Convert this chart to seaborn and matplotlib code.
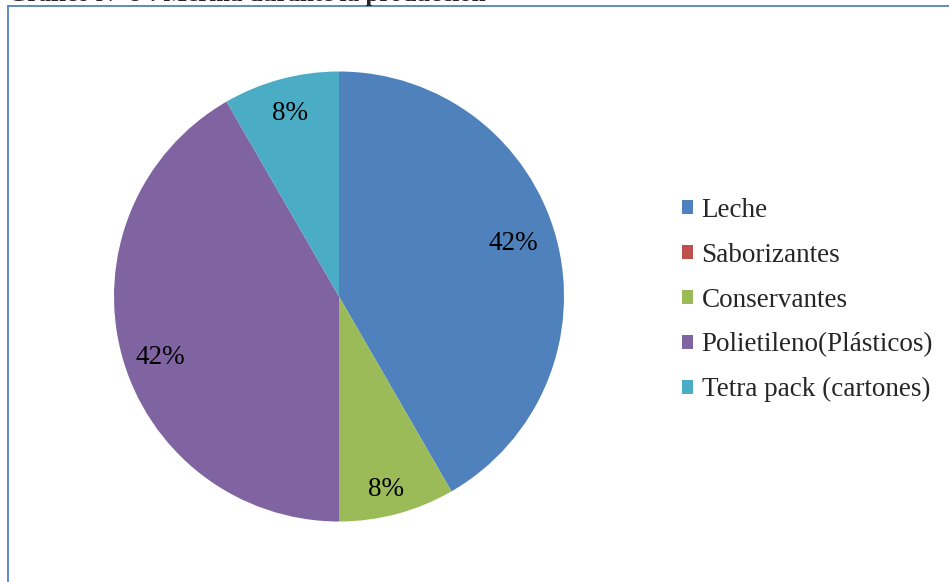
import matplotlib
matplotlib.use("Agg")
import numpy as np
import matplotlib.pyplot as plt
import seaborn as sns
from matplotlib.patches import Patch
from matplotlib.lines import Line2D

categories = ["Leche", "Saborizantes", "Conservantes", "Polietileno(Plásticos)", "Tetra pack (cartones)"]
values = [5, 0, 1, 5, 1]
colors = ["#4F81BD", "#C0504D", "#9BBB59", "#8064A2", "#4BACC6"]
title = "Gráfico N° 9 : Merma durante la producción"

sns.set_theme(style="white")
plt.rcParams["font.family"] = ["Liberation Serif", "DejaVu Serif"]

W, H = 949, 582
fig = plt.figure(figsize=(W / 100, H / 100), dpi=100)

# pie axes: center (339, 296.5), radius 225 px
cx, cy, r = 339, 296.5, 225
ax = fig.add_axes([(cx - r) / W, (H - cy - r) / H, 2 * r / W, 2 * r / H])

def fmt(p):
    return f"{p:.0f}%" if p > 0 else ""

wedges, texts, autotexts = ax.pie(
    values, colors=colors, startangle=90, counterclock=False,
    autopct=fmt, pctdistance=0.84, radius=1,
    wedgeprops=dict(linewidth=0),
    textprops=dict(fontsize=19.5, color="black"),
)
# label placement (distance from centre, angular nudge in degrees)
label_dist = [0.81, 0.84, 0.885, 0.84, 0.84]
label_nudge = [2, 0, -1.3, 3.7, 0]
for w, t, d, n in zip(wedges, autotexts, label_dist, label_nudge):
    a = np.deg2rad((w.theta1 + w.theta2) / 2 + n)
    t.set_position((d * np.cos(a), d * np.sin(a)))

ax.set_xlim(-1, 1)
ax.set_ylim(-1, 1)
ax.set_aspect("equal")
ax.axis("off")

handles = [Patch(facecolor=c, edgecolor="none") for c in colors]
fig.legend(handles, categories, loc="upper left",
           bbox_to_anchor=(682 / W, 1 - 198 / H), frameon=False,
           fontsize=19.5, handlelength=0.42, handleheight=0.42,
           handletextpad=0.3, labelspacing=0.73, borderaxespad=0, borderpad=0)

# chart area border (top and left visible)
fig.add_artist(Line2D([8 / W, 8 / W], [0, 1 - 6 / H], transform=fig.transFigure,
                      color="#4F81BD", linewidth=1.3))
fig.add_artist(Line2D([8 / W, 1], [1 - 6 / H, 1 - 6 / H], transform=fig.transFigure,
                      color="#4F81BD", linewidth=1.3))

fig.text(8 / W, 1 - 1 / H, title, fontsize=18, fontweight="bold",
         ha="left", va="baseline")

fig.savefig("out.png", dpi=100)
